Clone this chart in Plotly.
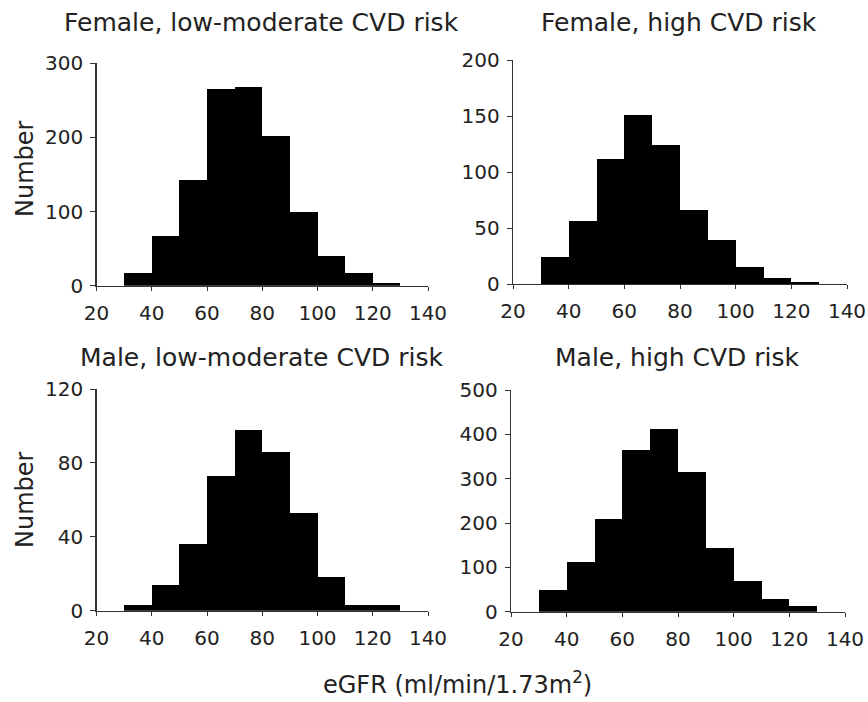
import plotly.graph_objects as go

# ---- data ----
bin_edges = [30, 40, 50, 60, 70, 80, 90, 100, 110, 120, 130]
female_low = [17, 67, 142, 266, 268, 202, 100, 40, 17, 3]
female_high = [24, 56, 112, 151, 124, 66, 39, 15, 5, 2]
male_low = [3, 14, 36, 73, 98, 86, 53, 18, 3, 3]
male_high = [50, 112, 210, 364, 413, 315, 144, 70, 28, 12]

titles = ["Female, low-moderate CVD risk", "Female, high CVD risk",
          "Male, low-moderate CVD risk", "Male, high CVD risk"]
x_ticks = [20, 40, 60, 80, 100, 120, 140]
y_ticks = [[0, 100, 200, 300], [0, 50, 100, 150, 200],
           [0, 40, 80, 120], [0, 100, 200, 300, 400, 500]]
y_label = "Number"
x_label = "eGFR (ml/min/1.73m<sup>2</sup>)"

W, H = 868, 702
FONT = "DejaVu Sans"
TXT = "#222222"

def px_x(a, b):
    return [a / W, b / W]

def px_y(top, bottom):
    return [1 - bottom / H, 1 - top / H]

def pos(x, y):
    return x / W, 1 - y / H

# plot-area boxes in window pixels (left, right, top, bottom)
boxes = [(96.5, 428, 63.3, 285.7), (513, 847, 60, 284),
         (96.5, 428, 389, 610.7), (511, 845, 390, 611.7)]

series = [female_low, female_high, male_low, male_high]
centers = [(bin_edges[i] + bin_edges[i + 1]) / 2 for i in range(len(bin_edges) - 1)]
widths = [bin_edges[i + 1] - bin_edges[i] for i in range(len(bin_edges) - 1)]

fig = go.Figure()
for k, vals in enumerate(series):
    sfx = "" if k == 0 else str(k + 1)
    fig.add_trace(go.Bar(x=centers, y=vals, width=widths,
                         marker=dict(color="black", line=dict(width=0)),
                         xaxis="x" + sfx, yaxis="y" + sfx, showlegend=False))
    l, r, t, b = boxes[k]
    fig.layout["xaxis" + sfx] = dict(
        domain=px_x(l, r), range=[20, 140], anchor="y" + sfx, automargin=False,
        tickvals=x_ticks, ticks="outside", ticklen=4, tickwidth=1,
        tickcolor="#333", showline=True, linecolor="#333", linewidth=1.2,
        showgrid=False, zeroline=False, ticklabelstandoff=5,
        tickfont=dict(family=FONT, size=20, color=TXT))
    fig.layout["yaxis" + sfx] = dict(
        domain=px_y(t, b), range=[0, y_ticks[k][-1]], anchor="x" + sfx, automargin=False,
        tickvals=y_ticks[k], ticks="outside", ticklen=5, tickwidth=1,
        tickcolor="#333", showline=True, linecolor="#333", linewidth=1.2,
        showgrid=False, zeroline=False, ticklabelstandoff=3,
        tickfont=dict(family=FONT, size=20, color=TXT))

annos = []
title_y = [23, 23, 357, 357]
for k in range(4):
    l, r, t, b = boxes[k]
    ax, ay = pos((l + r) / 2 - 1, title_y[k])
    annos.append(dict(text=titles[k], x=ax, y=ay,
                      xref="paper", yref="paper", xanchor="center", yanchor="middle",
                      showarrow=False, font=dict(family=FONT, size=25, color=TXT)))
for yc in (169, 500):
    ax, ay = pos(25, yc)
    annos.append(dict(text=y_label, x=ax, y=ay, xref="paper", yref="paper",
                      xanchor="center", yanchor="middle", textangle=-90, showarrow=False,
                      font=dict(family=FONT, size=24, color=TXT)))
ax, ay = pos(457, 683)
annos.append(dict(text=x_label, x=ax, y=ay, xref="paper", yref="paper",
                  xanchor="center", yanchor="middle", showarrow=False,
                  font=dict(family=FONT, size=24, color=TXT)))

fig.update_layout(template="none", width=W, height=H,
                  margin=dict(l=0, r=0, t=0, b=0, autoexpand=False),
                  paper_bgcolor="white", plot_bgcolor="white", bargap=0,
                  hovermode=False, annotations=annos)
fig.write_html("out.html",
               config={"displayModeBar": False, "staticPlot": True},
               post_script="document.body.style.margin='0';"
                           "document.body.style.overflow='hidden';")
